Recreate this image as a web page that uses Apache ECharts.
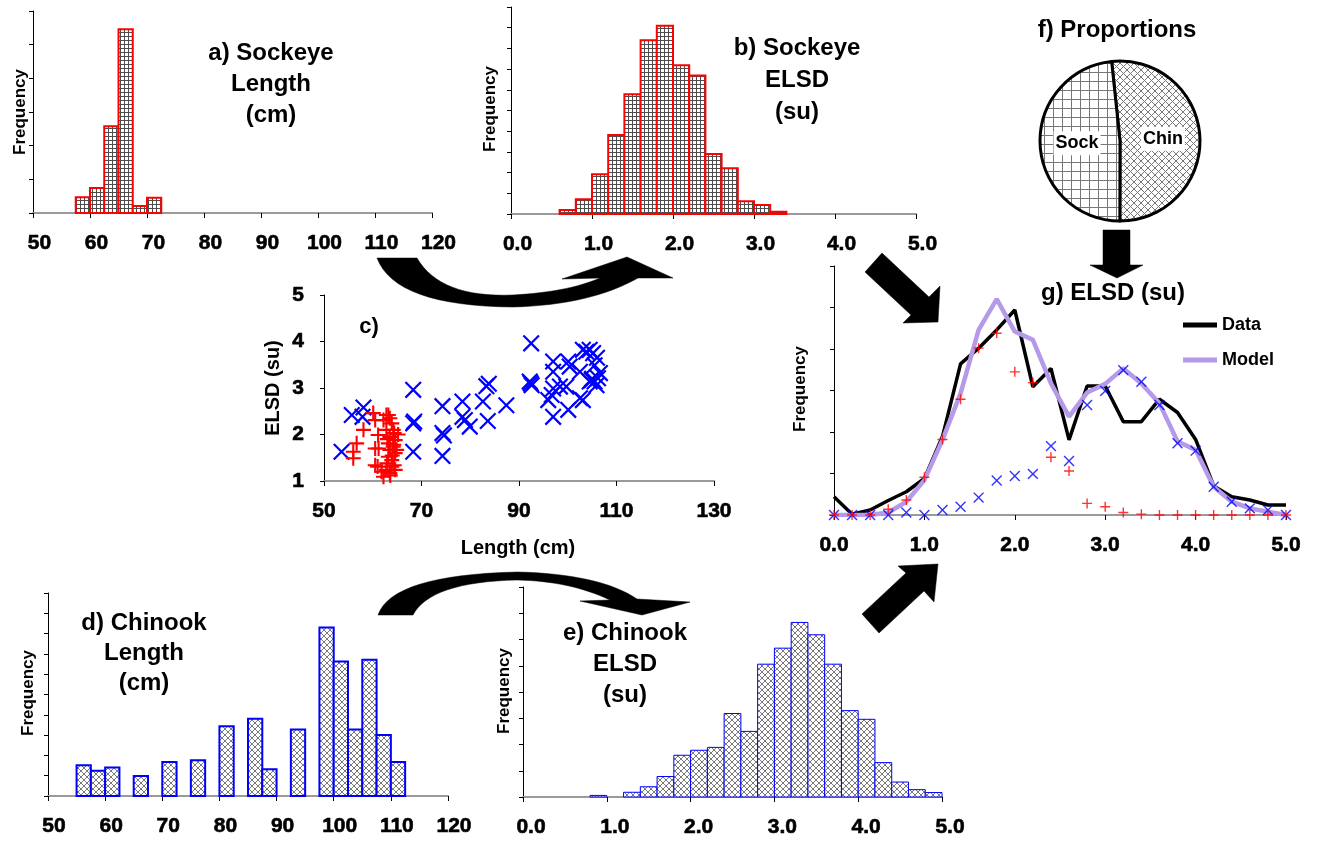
<!DOCTYPE html>
<html><head><meta charset="utf-8">
<script src="https://cdn.jsdelivr.net/npm/echarts@6/dist/echarts.min.js"></script>
<style>html,body{margin:0;padding:0;background:#fff}#c{width:1335px;height:841px}</style>
</head><body><div id="c"></div>
<script>
// ---------------- DATA ----------------
// a) Sockeye length histogram (bin starts, cm) and frequencies
const sockLenStarts = [57.5, 60, 62.5, 65, 67.5, 70];
const sockLenFreq   = [4.7, 7.4, 25.8, 54.6, 2.1, 4.5];
const sockLenBinW = 2.5;
// b) Sockeye ELSD histogram
const sockElsdStarts = [0.6, 0.8, 1.0, 1.2, 1.4, 1.6, 1.8, 2.0, 2.2, 2.4, 2.6, 2.8, 3.0, 3.2];
const sockElsdFreq   = [0.19, 0.71, 1.92, 3.82, 5.79, 8.39, 9.10, 7.19, 6.69, 2.90, 2.21, 0.61, 0.44, 0.11];
const elsdBinW = 0.2;
// c) scatter: length vs ELSD
const sockScatLen  = [56.0,56.0,56.7,58.1,60.1,60.5,62.2,63.2,63.5,61.1,60.5,61.2,60.5,61.0,61.8,62.2,62.8,63.2,63.5,63.2,63.5,64.2,64.4,64.6,64.2,63.9,64.4,64.6,63.5,62.9,63.9,62.8,64.9,64.6,65.2,62.8,63.9,63.0,64.0,64.3,63.6];
const sockScatElsd = [1.63,1.49,1.81,2.10,2.46,2.31,2.31,2.42,2.35,1.99,1.70,1.70,1.34,1.31,1.20,1.09,1.24,1.52,1.67,1.81,1.95,2.10,2.03,1.88,1.74,1.45,1.34,1.24,1.17,1.38,2.24,2.10,1.67,1.60,2.00,2.42,1.31,1.90,1.55,1.78,1.12];
const chinScatLen  = [53.6,55.7,58.1,57.9,68.3,68.3,68.5,68.3,74.3,74.3,74.6,74.3,78.4,78.4,78.9,79.9,83.3,83.8,82.6,83.6,87.4,92.5,92.2,92.6,92.4,97.0,97.0,100.1,100.4,103.1,104.5,105.2,105.5,102.5,97.0,98.4,99.7,96.0,96.7,97.0,100.1,102.5,103.1,104.9,105.5,106.2,105.9,106.6,104.5,103.8,105.0,106.0];
const chinScatElsd = [1.63,2.42,2.58,2.38,2.96,2.24,2.28,1.63,2.61,2.03,1.98,1.54,2.71,2.38,2.31,2.17,3.04,3.09,2.71,2.29,2.63,3.96,3.14,3.06,3.10,3.57,3.35,3.57,3.46,3.82,3.82,3.75,3.49,3.35,2.99,3.03,3.03,2.74,2.85,2.38,2.53,2.78,2.74,3.17,3.14,3.21,3.06,3.32,3.14,3.78,3.20,3.65];
// d) Chinook length histogram
const chinLenStarts = [55,57.5,60,62.5,65,67.5,70,72.5,75,77.5,80,82.5,85,87.5,90,92.5,95,97.5,100,102.5,105,107.5,110];
const chinLenFreq   = [1.52,1.24,1.40,0,0.99,0,1.68,0,1.76,0,3.44,0,3.81,1.32,0,3.28,0,8.30,6.62,3.28,6.71,3.01,1.68];
const chinLenBinW = 2.5;
// e) Chinook ELSD histogram
const chinElsdStarts = [0.8,1.0,1.2,1.4,1.6,1.8,2.0,2.2,2.4,2.6,2.8,3.0,3.2,3.4,3.6,3.8,4.0,4.2,4.4,4.6,4.8];
const chinElsdFreq   = [0.06,0,0.18,0.39,0.78,1.59,1.78,1.89,3.18,2.50,5.06,5.67,6.65,6.18,5.06,3.29,2.96,1.31,0.57,0.28,0.17];
// f) proportions
const propNames  = ['Chin', 'Sock'];
const propValues = [51.7, 48.3];
// g) mixture ELSD
const gX        = [0.0,0.2,0.4,0.6,0.8,1.0,1.2,1.4,1.6,1.8,2.0,2.2,2.4,2.6,2.8,3.0,3.2,3.4,3.6,3.8,4.0,4.2,4.4,4.6,4.8,5.0];
const gData     = [0.44,0.02,0.12,0.35,0.56,0.88,1.89,3.64,4.02,4.46,4.94,3.09,3.53,1.81,3.11,3.11,2.25,2.25,2.79,2.47,1.82,0.70,0.44,0.36,0.24,0.24];
const gModel    = [0,0,0,0.06,0.32,0.84,1.81,2.93,4.46,5.20,4.42,4.22,3.17,2.37,2.95,3.16,3.53,3.17,2.69,1.77,1.57,0.68,0.32,0.16,0.08,0];
const gSockComp = [0,0,0,0.14,0.36,0.91,1.82,2.79,4.02,4.38,3.45,3.19,1.39,1.06,0.28,0.20,0.06,0.02,0,0,0,0,0,0,0,0];
const gChinComp = [0,0,0,0,0.06,0,0.12,0.20,0.42,0.83,0.94,0.99,1.66,1.30,2.65,2.99,3.49,3.21,2.65,1.73,1.55,0.68,0.32,0.16,0.12,0];

// ---------------- STYLE HELPERS ----------------
const SANS = '"Liberation Sans", Arial, sans-serif';
function makePattern(size, draw) {
  const c = document.createElement('canvas'); c.width = size; c.height = size;
  const g = c.getContext('2d'); g.fillStyle = '#fff'; g.fillRect(0, 0, size, size);
  draw(g, size); return { image: c, repeat: 'repeat' };
}
const gridPat = makePattern(4, (g, s) => { g.fillStyle = '#4d4d4d'; g.fillRect(0, 0, s, 1); g.fillRect(0, 0, 1, s); });
const crossPat = makePattern(6, (g, s) => { g.strokeStyle = '#6a6a6a'; g.lineWidth = 0.9; g.beginPath(); g.moveTo(0, 0); g.lineTo(s, s); g.moveTo(s, 0); g.lineTo(0, s); g.stroke(); });
const gridPatBig = makePattern(9, (g, s) => { g.fillStyle = '#777'; g.fillRect(0, 0, s, 1); g.fillRect(0, 0, 1, s); });
const crossPatBig = makePattern(7, (g, s) => { g.strokeStyle = '#777'; g.lineWidth = 1; g.beginPath(); g.moveTo(0, 0); g.lineTo(s, s); g.moveTo(s, 0); g.lineTo(0, s); g.stroke(); });

const PLUS = 'path://M4.3,0H5.7V4.3H10V5.7H5.7V10H4.3V5.7H0V4.3H4.3Z';
const PLUS_THIN = 'path://M4.5,0H5.5V4.5H10V5.5H5.5V10H4.5V5.5H0V4.5H4.5Z';

const tickLabel = { color: '#000', fontFamily: SANS, fontWeight: 'bold', fontSize: 21, margin: 20,
                    textBorderColor: '#000', textBorderWidth: 0.6 };
function xAx(gi, min, max, interval, fmt, padLeft) {
  return {
    gridIndex: gi, type: 'value', min: min, max: max, interval: interval,
    axisLine: { show: true, onZero: false, lineStyle: { color: '#9a9a9a', width: 2 } },
    axisTick: { show: true, inside: false, length: 5, lineStyle: { color: '#000', width: 1 } },
    splitLine: { show: false },
    axisLabel: Object.assign({}, tickLabel, { formatter: fmt, padding: [0, 0, 0, padLeft] })
  };
}
function yAx(gi, min, max, interval, showLabels) {
  return {
    gridIndex: gi, type: 'value', min: min, max: max, interval: interval,
    axisLine: { show: true, onZero: false, lineStyle: { color: '#000', width: 1 } },
    axisTick: { show: true, inside: false, length: 4, lineStyle: { color: '#000', width: 1 } },
    splitLine: { show: false },
    axisLabel: showLabels ? Object.assign({}, tickLabel) : { show: false }
  };
}
const f1 = v => v.toFixed(1);
const f0 = v => String(v);

function histSeries(gi, starts, binW, freq, stroke, lw, pat) {
  return {
    type: 'custom', xAxisIndex: gi, yAxisIndex: gi, silent: true, z: 3,
    data: starts.map((s, i) => [s, s + binW, freq[i]]),
    renderItem: (params, api) => {
      const v = api.value(2);
      if (!(v > 0)) return null;
      const tl = api.coord([api.value(0), v]);
      const br = api.coord([api.value(1), 0]);
      return { type: 'rect', shape: { x: tl[0], y: tl[1], width: br[0] - tl[0], height: br[1] - tl[1] },
               style: { fill: pat, stroke: stroke, lineWidth: lw } };
    }
  };
}

function txt(x, y, text, size, extra) {
  return Object.assign({
    type: 'text', x: x, y: y, silent: true, z: 10,
    style: { text: text, fontFamily: SANS, fontWeight: 'bold', fontSize: size, fill: '#000',
             align: 'center', verticalAlign: 'middle', textAlign: 'center', textVerticalAlign: 'middle' }
  }, extra || {});
}
function title3(x, y, text, lh) {
  const t = txt(x, y, text, 24);
  t.style.lineHeight = lh;
  return t;
}
function freqLabel(x, y) { return txt(x, y, 'Frequency', 17, { rotation: Math.PI / 2 }); }

// decorative arrow outlines: segments M/L/Q flattened into polygon points
function shapePoints(segs) {
  const pts = []; let cur = null;
  segs.forEach(s => {
    if (s[0] === 'M' || s[0] === 'L') { cur = [s[1], s[2]]; pts.push(cur); }
    else if (s[0] === 'Q') {
      const p0 = cur, c = [s[1], s[2]], p1 = [s[3], s[4]];
      for (let k = 1; k <= 16; k++) {
        const t = k / 16, u = 1 - t;
        pts.push([u * u * p0[0] + 2 * u * t * c[0] + t * t * p1[0], u * u * p0[1] + 2 * u * t * c[1] + t * t * p1[1]]);
      }
      cur = p1;
    }
  });
  return pts;
}
function arrow(segs) {
  return { type: 'polygon', silent: true, z: 5, shape: { points: shapePoints(segs) },
           style: { fill: '#000', stroke: '#000', lineWidth: 0.5 } };
}

const option = {
  animation: false,
  backgroundColor: '#fff',
  textStyle: { fontFamily: SANS },
  grid: [
    { left: 33, top: 11, width: 399, height: 202 },
    { left: 511, top: 7, width: 405, height: 207 },
    { left: 324, top: 295, width: 390, height: 186 },
    { left: 48, top: 593, width: 400, height: 203 },
    { left: 523, top: 587, width: 419, height: 210 },
    { left: 834, top: 266, width: 452, height: 249 }
  ],
  xAxis: [
    xAx(0, 50, 120, 10, f0, 13),
    xAx(1, 0, 5, 1, f1, 13),
    xAx(2, 50, 130, 20, f0, 0),
    xAx(3, 50, 120, 10, f0, 12),
    xAx(4, 0, 5, 1, f1, 16),
    xAx(5, 0, 5, 1, f1, 0)
  ],
  yAxis: [
    yAx(0, 0, 60, 10, false),
    yAx(1, 0, 10, 1, false),
    yAx(2, 1, 5, 1, true),
    yAx(3, 0, 10, 1, false),
    yAx(4, 0, 8, 1, false),
    yAx(5, 0, 6, 1, false)
  ],
  legend: {
    data: ['Data', 'Model'], orient: 'vertical', left: 1183, top: 315, padding: 0,
    itemWidth: 34, itemHeight: 5, itemGap: 15, icon: 'rect', selectedMode: false,
    textStyle: { fontFamily: SANS, fontWeight: 'bold', fontSize: 18, color: '#000', lineHeight: 20 }
  },
  series: [
    histSeries(0, sockLenStarts, sockLenBinW, sockLenFreq, '#ff0000', 2, gridPat),
    histSeries(1, sockElsdStarts, elsdBinW, sockElsdFreq, '#ff0000', 2, gridPat),
    histSeries(3, chinLenStarts, chinLenBinW, chinLenFreq, '#0000ff', 2, crossPat),
    histSeries(4, chinElsdStarts, elsdBinW, chinElsdFreq, '#0000ff', 1, crossPat),
    {
      type: 'scatter', xAxisIndex: 2, yAxisIndex: 2, silent: true, z: 3,
      data: chinScatLen.map((v, i) => [v, chinScatElsd[i]]),
      symbol: PLUS_THIN, symbolSize: 22, symbolRotate: 45, itemStyle: { color: '#0000ff', opacity: 1 }
    },
    {
      type: 'scatter', xAxisIndex: 2, yAxisIndex: 2, silent: true, z: 4,
      data: sockScatLen.map((v, i) => [v, sockScatElsd[i]]),
      symbol: PLUS, symbolSize: 15, itemStyle: { color: '#ff0000', opacity: 1 }
    },
    {
      type: 'pie', center: [1120, 141], radius: 80, startAngle: 96, clockwise: true, silent: true,
      avoidLabelOverlap: false, emphasis: { disabled: true },
      label: { show: true, position: 'inside', formatter: '{b}', fontFamily: SANS, fontWeight: 'bold', fontSize: 18,
               color: '#000', backgroundColor: '#fff', padding: [3, 2] },
      labelLine: { show: false },
      data: propNames.map((n, i) => ({ name: n, value: propValues[i],
        itemStyle: { color: n === 'Sock' ? gridPatBig : crossPatBig, borderColor: '#000', borderWidth: 3 } }))
    },
    {
      name: 'Data', type: 'line', xAxisIndex: 5, yAxisIndex: 5, silent: true, z: 3,
      data: gX.map((x, i) => [x, gData[i]]), symbol: 'none', color: '#000',
      lineStyle: { color: '#000', width: 3.5 }
    },
    {
      name: 'Model', type: 'line', xAxisIndex: 5, yAxisIndex: 5, silent: true, z: 4,
      data: gX.map((x, i) => [x, gModel[i]]), symbol: 'none', color: '#b49ae8',
      lineStyle: { color: '#b49ae8', width: 4.5 }
    },
    {
      type: 'scatter', xAxisIndex: 5, yAxisIndex: 5, silent: true, z: 5,
      data: gX.map((x, i) => [x, gChinComp[i]]),
      symbol: PLUS_THIN, symbolSize: 14, symbolRotate: 45, itemStyle: { color: '#0000ff' }
    },
    {
      type: 'scatter', xAxisIndex: 5, yAxisIndex: 5, silent: true, z: 6,
      data: gX.map((x, i) => [x, gSockComp[i]]),
      symbol: PLUS, symbolSize: 10, itemStyle: { color: '#ff0000' }
    }
  ],
  graphic: [
    title3(271, 84, 'a) Sockeye\nLength\n(cm)', 31),
    title3(797, 80, 'b) Sockeye\nELSD\n(su)', 32),
    title3(144, 653, 'd) Chinook\nLength\n(cm)', 30),
    title3(625, 664, 'e) Chinook\nELSD\n(su)', 31),
    txt(1117, 30, 'f) Proportions', 24),
    txt(1113, 293, 'g) ELSD (su)', 24),
    txt(369, 327, 'c)', 22),
    txt(518, 548, 'Length (cm)', 20),
    txt(273, 388, 'ELSD (su)', 20, { rotation: Math.PI / 2 }),
    freqLabel(20, 112),
    freqLabel(490, 109),
    freqLabel(28, 693),
    freqLabel(504, 691),
    freqLabel(800, 389),
    arrow([['M',377,258],['L',417,258],['Q',440,298,513,295],['Q',568,292,600,278],['L',562,279],['L',627,257],['L',673,278],['L',638,278],['Q',590,305,513,307],['Q',395,306,377,258]]),
    arrow([['M',378,615],['Q',392,575,517,572],['Q',600,574,637,599],['L',690,602],['L',642,615],['L',580,601],['L',610,600],['Q',570,581,517,580],['Q',430,582,413,615]]),
    arrow([['M',865,272],['L',882,253],['L',929,297],['L',940,286],['L',938,322],['L',903,323],['L',911,315]]),
    arrow([['M',862,614],['L',906,573],['L',898,566],['L',938,564],['L',934,602],['L',924,591],['L',879,633]]),
    arrow([['M',1103,230],['L',1130,230],['L',1130,265],['L',1143,265],['L',1117,278],['L',1090,265],['L',1103,265]])
  ]
};
const chart = echarts.init(document.getElementById('c'), null, { renderer: 'canvas' });
chart.setOption(option);
</script>
</body></html>
